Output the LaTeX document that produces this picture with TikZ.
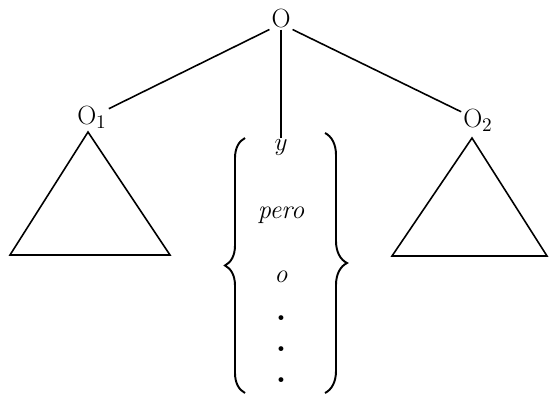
\documentclass[tikz,border=0pt]{standalone}
\usetikzlibrary{decorations.pathreplacing}

\begin{document}
\begin{tikzpicture}[font=\fontsize{15}{18}\selectfont,
    word/.style={inner sep=1pt},
    edge/.style={line width=0.9pt},
    curly/.style={line width=1.1pt,decorate,decoration={brace,amplitude=#1}}]
  \useasboundingbox (0,0) rectangle (11,-7.9);
  \node[word] (root) at (5.62,-0.36) {O};
  \node[word] (o1) at (1.84,-2.34) {O$_1$};
  \node[word] (o2) at (9.56,-2.4) {O$_2$};
  \draw[edge] (root.south west) -- (o1);
  \draw[edge] (root.south east) -- (o2);
  % conjunctions between the braces
  \node[word] (y) at (5.62,-2.96) {$y$};
  \node[word] (pero) at (5.62,-4.3) {\itshape pero};
  \node[word] (o) at (5.62,-5.54) {\itshape o};
  \node[word,align=center,font=\fontsize{19}{17.8}\selectfont\bfseries]
       (dots) at (5.62,-6.98) {.\\.\\.};
  \draw[edge] (root.south) -- (y.north);
  \draw[curly=0.4cm] (4.9,-7.86) -- (4.9,-2.76);
  \draw[curly=0.44cm] (6.5,-2.66) -- (6.5,-7.86);
  % triangles
  \draw[edge,line join=miter] (1.76,-2.64) -- (3.4,-5.1) -- (0.2,-5.1) -- cycle;
  \draw[edge,line join=miter] (9.44,-2.76) -- (10.94,-5.12) -- (7.84,-5.12) -- cycle;
\end{tikzpicture}
\end{document}
